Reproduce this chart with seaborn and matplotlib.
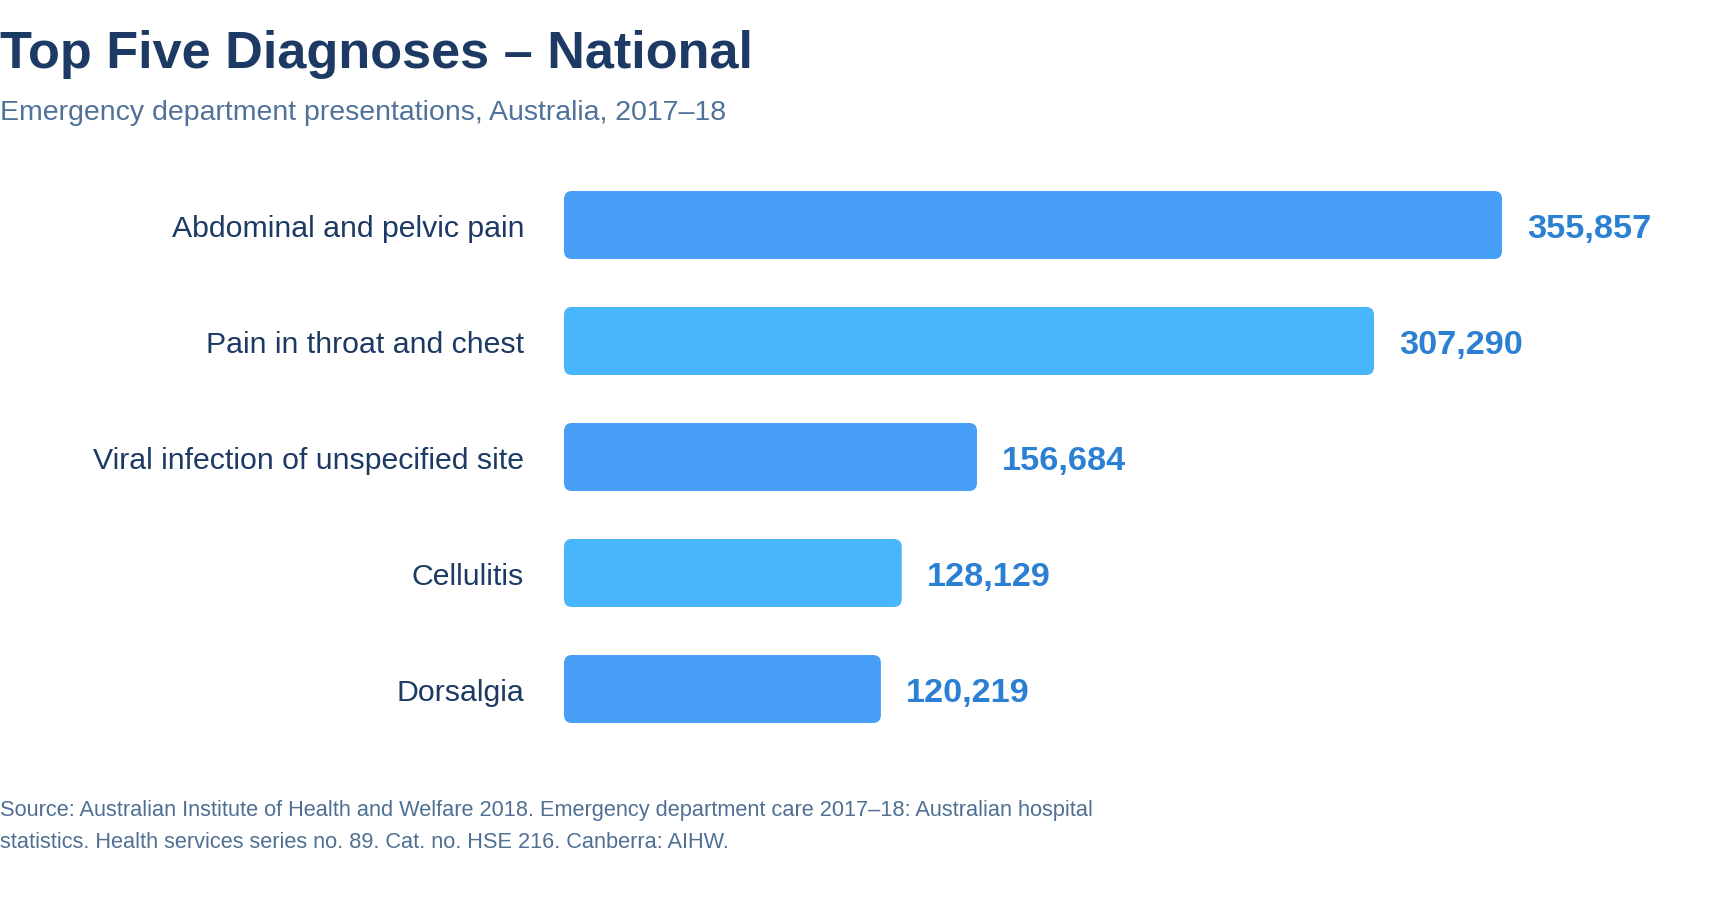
import matplotlib
matplotlib.use("Agg")
import matplotlib.pyplot as plt
import seaborn as sns
import pandas as pd
from matplotlib.patches import FancyBboxPatch

categories = ["Abdominal and pelvic pain", "Pain in throat and chest",
              "Viral infection of unspecified site", "Cellulitis", "Dorsalgia"]
presentations = [355857, 307290, 156684, 128129, 120219]
bar_colors = ["#479FF8", "#48B6FB", "#479FF8", "#48B6FB", "#479FF8"]

title = "Top Five Diagnoses \u2013 National"
subtitle = "Emergency department presentations, Australia, 2017\u201318"
source_lines = [
    "Source: Australian Institute of Health and Welfare 2018. Emergency department care 2017\u201318: Australian hospital",
    "statistics. Health services series no. 89. Cat. no. HSE 216. Canberra: AIHW.",
]

df = pd.DataFrame({"diagnosis": categories, "count": presentations})

sns.set_theme(style="white")
plt.rcParams["font.family"] = ["Liberation Sans", "DejaVu Sans"]

W, H = 1720, 904
dpi = 100
fig = plt.figure(figsize=(W / dpi, H / dpi), dpi=dpi)
fig.patch.set_facecolor("white")

ax_left, ax_right = 564, 1720
ax_top, ax_bottom = 168, 748
ax = fig.add_axes([ax_left / W, (H - ax_bottom) / H, (ax_right - ax_left) / W, (ax_bottom - ax_top) / H])

sns.barplot(data=df, x="count", y="diagnosis", hue="diagnosis", palette=bar_colors,
            legend=False, width=68 / 116, saturation=1, ax=ax, orient="h")

px_per_unit = 0.002636
ax.set_xlim(0, (ax_right - ax_left) / px_per_unit)
ax.set_ylim(len(categories) - 0.5, -0.5)

# rounded bars
rx = 8 / px_per_unit
ry = 8 / 116
for p in list(ax.patches):
    x0, y0 = p.get_x(), p.get_y()
    w, h = p.get_width(), p.get_height()
    fc = p.get_facecolor()
    p.remove()
    fb = FancyBboxPatch((x0, y0), w, h,
                        boxstyle=f"round,pad=0,rounding_size={rx}",
                        mutation_aspect=ry / rx, facecolor=fc, edgecolor="none")
    ax.add_patch(fb)

for i, v in enumerate(presentations):
    ax.annotate(f"{v:,}", xy=(v, i), xytext=(25 * 72 / dpi, -2.5), textcoords="offset points",
                ha="left", va="center", fontsize=24.7, fontweight="bold", color="#2B80D3")

ax.set_xlabel("")
ax.set_ylabel("")
ax.set_xticks([])
ax.tick_params(axis="y", length=0, pad=40 * 72 / dpi, labelsize=21.8, labelcolor="#1C3A63")
for s in ax.spines.values():
    s.set_visible(False)
ax.set_facecolor("none")

fig.text(0, 1 - 68 / H, title, ha="left", va="baseline", fontsize=37.6,
         fontweight="bold", color="#1C3A63")
fig.text(0, 1 - 120 / H, subtitle, ha="left", va="baseline", fontsize=20.5, color="#50729A")
fig.text(0, 1 - 816 / H, source_lines[0], ha="left", va="baseline", fontsize=15.7, color="#4F6F93")
fig.text(0, 1 - 848 / H, source_lines[1], ha="left", va="baseline", fontsize=15.7, color="#4F6F93")

fig.savefig("out.png", dpi=dpi, facecolor="white")
